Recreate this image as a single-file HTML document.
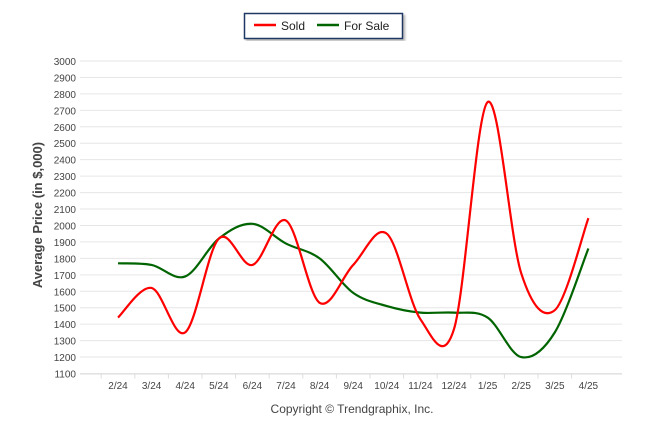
<!DOCTYPE html>
<html><head><meta charset="utf-8"><style>
body{margin:0;background:#fff;font-family:"Liberation Sans",sans-serif;}
svg{display:block}
</style></head><body>
<svg width="646" height="434">
<defs><filter id="sh"><feDropShadow dx="2" dy="2" stdDeviation="1" flood-color="#888" flood-opacity="0.6"/></filter></defs>
<g>
<rect x="244.5" y="13.5" width="158" height="25" fill="#fff" stroke="#1f3864" stroke-width="1.5" filter="url(#sh)"/>
<line x1="254" y1="25" x2="276" y2="25" stroke="#f00" stroke-width="2.5"/>
<text x="281" y="30" font-size="12" fill="#222">Sold</text>
<line x1="317" y1="25" x2="339" y2="25" stroke="#006400" stroke-width="2.5"/>
<text x="344" y="30" font-size="12" fill="#222">For Sale</text>
</g>
<g id="grid"></g>
<g id="yt"></g>
<g id="xt"></g>
<text transform="translate(42,215) rotate(-90)" text-anchor="middle" font-size="13" font-weight="bold" fill="#444">Average Price (in $,000)</text>
<text x="352" y="413" text-anchor="middle" font-size="12" fill="#444">Copyright © Trendgraphix, Inc.</text>
<g id="series"></g>
</svg>
<script>
const categories=["2/24","3/24","4/24","5/24","6/24","7/24","8/24","9/24","10/24","11/24","12/24","1/25","2/25","3/25","4/25"];
const soldValues=[1440,1620,1350,1920,1760,2030,1530,1760,1950,1430,1370,2750,1710,1485,2045];
const forSaleValues=[1770,1760,1690,1920,2010,1890,1800,1590,1510,1470,1470,1440,1200,1350,1860];
const yTicks=[1100,1200,1300,1400,1500,1600,1700,1800,1900,2000,2100,2200,2300,2400,2500,2600,2700,2800,2900,3000];
const NS="http://www.w3.org/2000/svg";
const yMin=1100,yMax=3000,yTop=61,yBot=373.5;
const y=v=>yBot-(v-yMin)/(yMax-yMin)*(yBot-yTop);
const x0=118,dx=33.6;
const x=i=>x0+i*dx;
function mk(t,a,p){const e=document.createElementNS(NS,t);for(const k in a)e.setAttribute(k,a[k]);p.appendChild(e);return e;}
const grid=document.getElementById('grid'),yt=document.getElementById('yt'),xt=document.getElementById('xt'),ser=document.getElementById('series');
yTicks.forEach(v=>{
 const l=mk('line',{x1:80,x2:622,y1:y(v),y2:y(v),stroke:'#e6e6e6','stroke-width':1},grid);
 
 
 const t=mk('text',{x:76,y:y(v)+4,'text-anchor':'end','font-size':10,fill:'#444'},yt);
 
 
 t.textContent=v;
});
mk('line',{x1:80,x2:622,y1:yBot+0.5,y2:yBot+0.5,stroke:'#ddd'},xt);
categories.forEach((c,i)=>{
 mk('line',{x1:x(i)-dx/2,x2:x(i)-dx/2,y1:yBot,y2:yBot+5,stroke:'#ddd'},xt);
 const t=mk('text',{x:x(i),y:389,'text-anchor':'middle','font-size':10,fill:'#444'},xt);
 
 
 t.textContent=c;
});
function path(vals){
 const p=vals.map((v,i)=>[x(i),y(v)]);
 let d=`M${p[0][0]},${p[0][1]}`;
 for(let i=0;i<p.length-1;i++){
  const a=p[i-1]||p[i],b=p[i],c=p[i+1],e=p[i+2]||c,k=1/6;
  d+=` C${b[0]+(c[0]-a[0])*k},${b[1]+(c[1]-a[1])*k} ${c[0]-(e[0]-b[0])*k},${c[1]-(e[1]-b[1])*k} ${c[0]},${c[1]}`;
 }
 return d;
}
const g1=mk('path',{d:path(forSaleValues),fill:'none',stroke:'#006400','stroke-width':2.2},ser);


const r1=mk('path',{d:path(soldValues),fill:'none',stroke:'#f00','stroke-width':2.2},ser);


</script>
</body></html>
